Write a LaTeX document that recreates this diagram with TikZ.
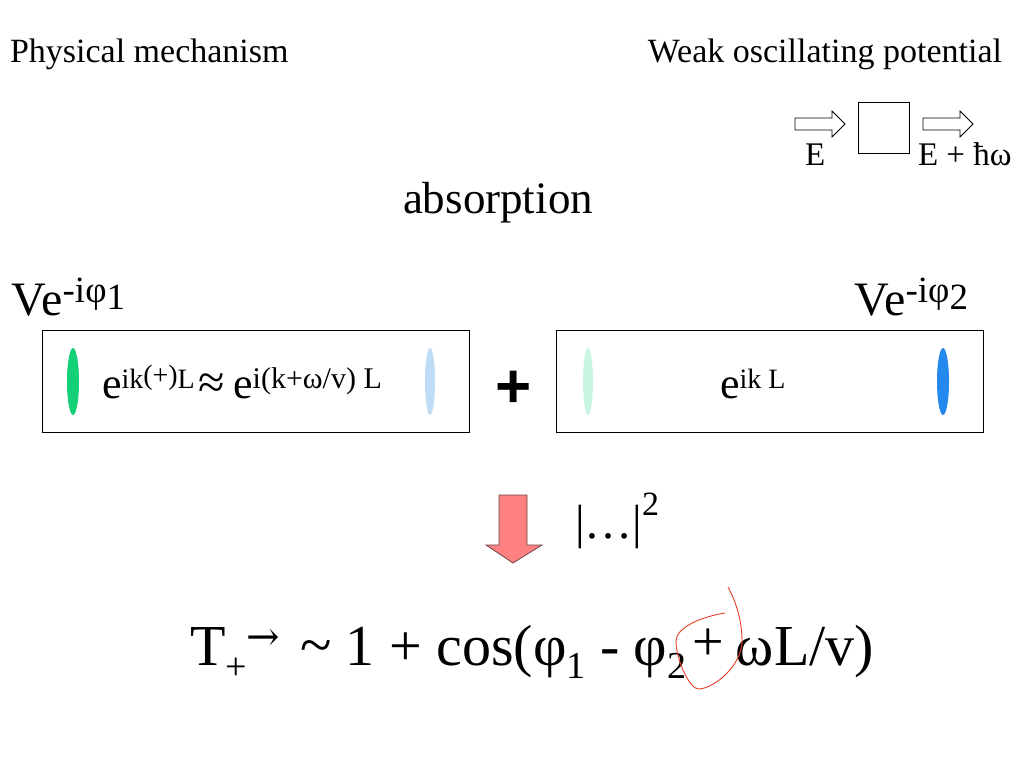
\documentclass[tikz,border=0pt]{standalone}
\usepackage{fontspec}
\setmainfont{Liberation Serif}
\newfontfamily\plusfont{Liberation Sans}
\newfontfamily\arrowfont{DejaVu Serif}
\usetikzlibrary{shapes.geometric}
\newcommand{\fsz}[1]{\fontsize{#1}{#1}\selectfont}
\definecolor{greenell}{RGB}{20,208,118}
\definecolor{lblueell}{RGB}{190,220,246}
\definecolor{mintell}{RGB}{200,246,226}
\definecolor{blueell}{RGB}{36,136,236}
\definecolor{arrowred}{RGB}{255,128,128}
\definecolor{arrowedge}{RGB}{110,70,70}
\definecolor{redpen}{RGB}{232,62,42}
\begin{document}
\begin{tikzpicture}[x=1pt,y=-1pt,
  txt/.style={inner sep=0pt, outer sep=0pt},
  wavebox/.style={draw=black, line width=0.8pt, minimum width=427pt, minimum height=102pt, inner sep=0pt},
  lens/.style={ellipse, draw=none, inner sep=0pt, minimum height=67pt},
  hollow/.style={draw=black, line width=0.8pt, fill=white}]
\useasboundingbox (0,0) rectangle (1024,768);
\fill[white] (0,0) rectangle (1024,768);

% titles
\node[txt, anchor=base west] (phys) at (10,63) {\fsz{34}Physical mechanism};
\node[txt, anchor=base east] (weak) at (1002,63) {\fsz{34}Weak oscillating potential};
\node[txt, anchor=base] (abs) at (498,213) {\fsz{45}absorption};

% potential sketch
\draw[hollow] (795,118) -- (832,118) -- (832,111) -- (845,124) -- (832,137) -- (832,130) -- (795,130) -- cycle;
\node[draw=black, line width=0.8pt, minimum width=51pt, minimum height=51pt, inner sep=0pt] (pot) at (883.5,127.5) {};
\draw[hollow] (923,118) -- (960,118) -- (960,111) -- (973,124) -- (960,137) -- (960,130) -- (923,130) -- cycle;
\node[txt, anchor=base west] (ein) at (805,165) {\fsz{33}E};
\node[txt, anchor=base west] (eout) at (918,165) {\fsz{33}E + ħω};

% phases
\node[txt, anchor=base west] (v1) at (12,315) {\fsz{48}Ve\raisebox{13pt}{\fsz{37}-iφ\raisebox{-7pt}{1}}};
\node[txt, anchor=base east] (v2) at (968,315) {\fsz{48}Ve\raisebox{13pt}{\fsz{37}-iφ\raisebox{-7pt}{2}}};

% boxes
\node[wavebox] (boxL) at (255.5,381.5) {};
\node[wavebox] (boxR) at (770,381.5) {};
\node[lens, fill=greenell, minimum width=12pt] (gL) at (73,381.5) {};
\node[lens, fill=lblueell, minimum width=10pt] (bL) at (430,381.5) {};
\node[lens, fill=mintell, minimum width=10pt] (gR) at (588,381.5) {};
\node[lens, fill=blueell, minimum width=12pt] (bR) at (943,381.5) {};

\node[txt, anchor=base west] (tL) at (102,398) {\fsz{44}e\raisebox{10pt}{\fsz{28}ik\raisebox{4pt}{(+)}L}\hspace{4pt}{\fsz{48}≈}\hspace{8pt}e\raisebox{10pt}{\fsz{30}i(k+ω/v) L}};
\node[txt, anchor=base west] (tR) at (720,398) {\fsz{44}e\raisebox{10pt}{\fsz{28}ik L}};

\node[txt] (plus) at (514,389) {\plusfont\bfseries\fsz{62}+};

% down arrow
\draw[fill=arrowred, draw=arrowedge, line width=0.8pt] (499,495) -- (527,495) -- (527,545) -- (542,545) -- (513,563) -- (486,545) -- (499,545) -- cycle;
\node[txt, anchor=base west] (sq) at (575,538) {\fsz{48}|…|\raisebox{23pt}{\fsz{34}2}};

% result
\node[txt, anchor=base west] (res1) at (190,665) {\fsz{58}T\raisebox{-14pt}{\fsz{38}+}\raisebox{15pt}{\arrowfont\fsz{40}→}};
\node[txt, anchor=base west] (res2) at (300,665) {\fsz{58}\raisebox{1pt}{\textasciitilde} 1 + cos(φ\raisebox{-13pt}{\fsz{38}1} - φ\raisebox{-13pt}{\fsz{38}2}};
\node[txt] (res3) at (708,645) {\fsz{56}+};
\node[txt, anchor=base east] (res4) at (874,665) {\fsz{58}ωL/v)};

% hand-drawn red mark
\draw[redpen, line width=0.9pt] (725,613) .. controls (700,617) and (676,628) .. (676,641) .. controls (676,660) and (690,690) .. (699,689) .. controls (715,688) and (742,665) .. (742,641) .. controls (742,616) and (733,596) .. (728,587);
\end{tikzpicture}
\end{document}
